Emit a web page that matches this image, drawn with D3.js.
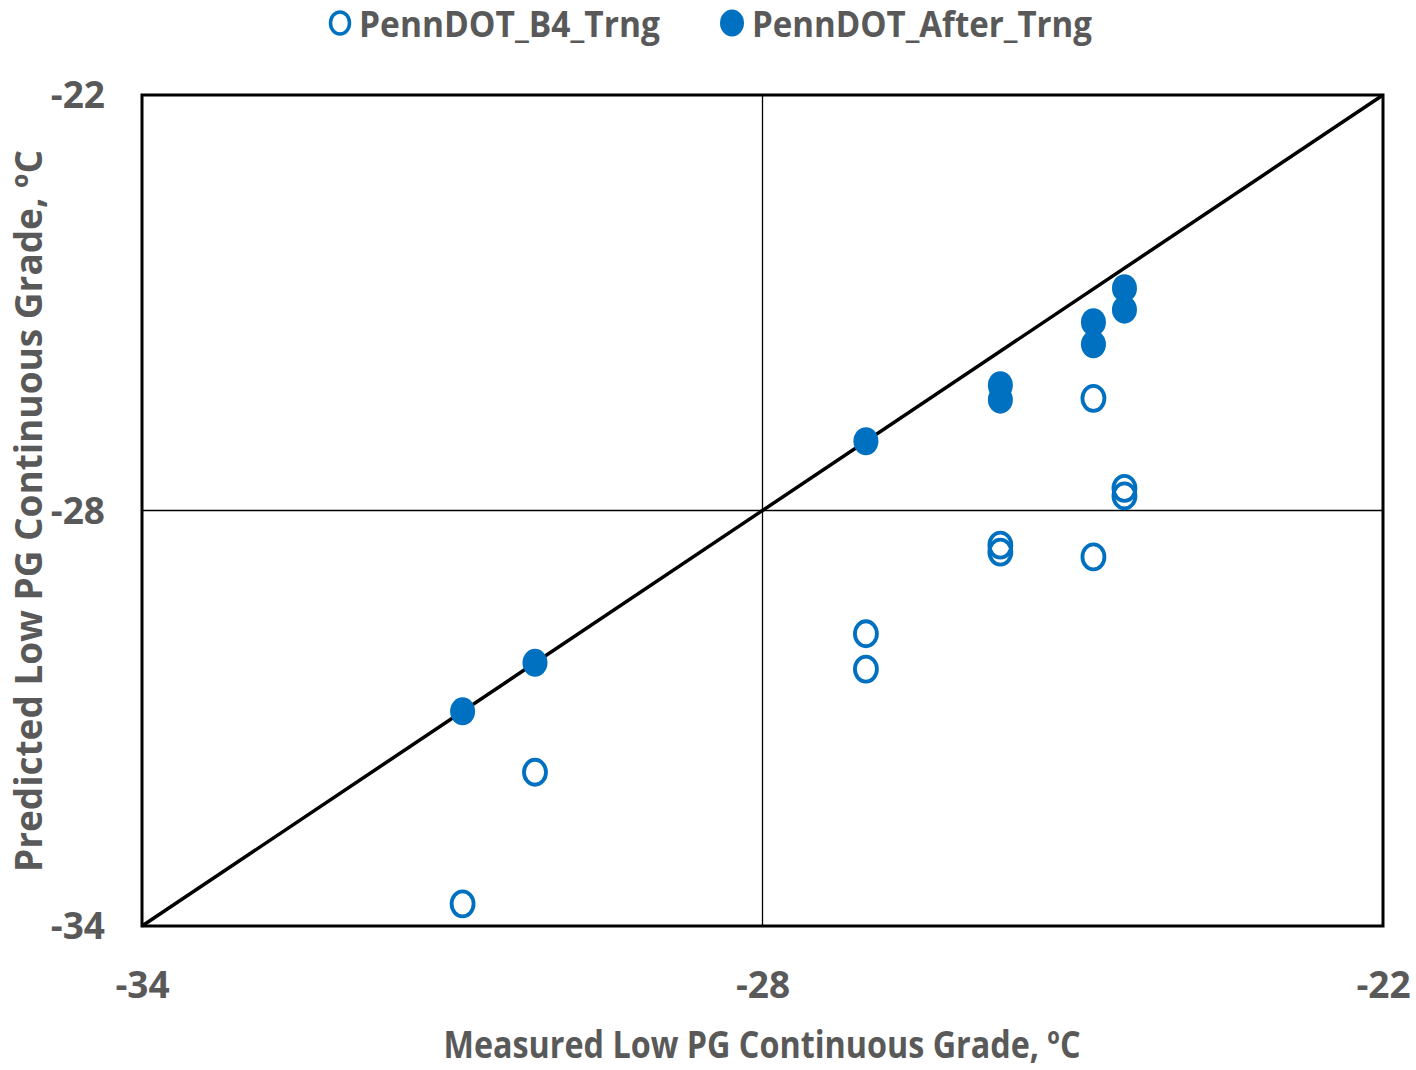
<!DOCTYPE html>
<html>
<head>
<meta charset="utf-8">
<script src="https://cdn.jsdelivr.net/npm/d3@7"></script>
<style>
  html, body { margin: 0; padding: 0; background: #fff; }
  svg text { font-family: "Liberation Sans Narrow", "Open Sans", sans-serif; font-weight: bold; fill: #595959; }
</style>
</head>
<body>
<svg id="chart" width="1416" height="1070"></svg>
<script>
// Measured vs predicted low-temperature PG continuous grade (°C)
const seriesNames = ["PennDOT_B4_Trng", "PennDOT_After_Trng"];

const b4Measured   = [-30.9, -30.2, -27.0, -27.0, -25.7, -25.7, -24.8, -24.8, -24.5, -24.5];
const b4Predicted  = [-33.68, -31.78, -29.78, -30.29, -28.50, -28.60, -26.38, -28.67, -27.68, -27.79];

const afterMeasured  = [-30.9, -30.2, -27.0, -25.7, -25.7, -24.8, -24.8, -24.5, -24.5];
const afterPredicted = [-30.9, -30.2, -27.0, -26.19, -26.40, -25.28, -25.60, -24.79, -25.10];

const axisDomain = [-34, -22];
const tickValues = [-34, -28, -22];
const xTitle = "Measured Low PG Continuous Grade, ºC";
const yTitle = "Predicted Low PG Continuous Grade, ºC";

const blue = "#0070C0";
const svg = d3.select("#chart");

const plot = { left: 142, right: 1383, top: 95, bottom: 926 };
const x = d3.scaleLinear().domain(axisDomain).range([plot.left, plot.right]);
const y = d3.scaleLinear().domain(axisDomain).range([plot.bottom, plot.top]);
const tickText = d => String(d);

// Centre gridlines
const grid = svg.append("g");
grid.selectAll("line.gx").data(tickValues.slice(1, -1)).join("line")
  .attr("x1", d => x(d)).attr("x2", d => x(d))
  .attr("y1", plot.top).attr("y2", plot.bottom)
  .attr("stroke", "#000").attr("stroke-width", 1.3);
grid.selectAll("line.gy").data(tickValues.slice(1, -1)).join("line")
  .attr("y1", d => y(d)).attr("y2", d => y(d))
  .attr("x1", plot.left).attr("x2", plot.right)
  .attr("stroke", "#000").attr("stroke-width", 1.3);

// Line of equality
svg.append("line")
  .attr("x1", x(axisDomain[0])).attr("y1", y(axisDomain[0]))
  .attr("x2", x(axisDomain[1])).attr("y2", y(axisDomain[1]))
  .attr("stroke", "#000").attr("stroke-width", 3.5);

// Plot frame
svg.append("rect")
  .attr("x", plot.left).attr("y", plot.top)
  .attr("width", plot.right - plot.left).attr("height", plot.bottom - plot.top)
  .attr("fill", "none").attr("stroke", "#000").attr("stroke-width", 3);

// Axes (labels only)
const xAxis = svg.append("g")
  .attr("transform", `translate(0,${plot.bottom})`)
  .call(d3.axisBottom(x).tickValues(tickValues).tickSize(0).tickPadding(0).tickFormat(tickText));
xAxis.select(".domain").remove();
xAxis.selectAll("text").attr("dy", null).attr("y", 72).style("font-size", "37px")
  .attr("text-anchor", "middle").attr("fill", "#595959");

const yAxis = svg.append("g")
  .attr("transform", `translate(${plot.left},0)`)
  .call(d3.axisLeft(y).tickValues(tickValues).tickSize(0).tickPadding(0).tickFormat(tickText));
yAxis.select(".domain").remove();
yAxis.selectAll("text").attr("x", -37).attr("dy", "0.35em").style("font-size", "37px")
  .attr("text-anchor", "end").attr("fill", "#595959");

// Before-training points (hollow)
svg.append("g").selectAll("ellipse").data(b4Measured.map((m, i) => [m, b4Predicted[i]])).join("ellipse")
  .attr("cx", d => x(d[0])).attr("cy", d => y(d[1]))
  .attr("rx", 11).attr("ry", 12.5)
  .attr("fill", "none").attr("stroke", blue).attr("stroke-width", 3.8);

// After-training points (filled)
svg.append("g").selectAll("ellipse").data(afterMeasured.map((m, i) => [m, afterPredicted[i]])).join("ellipse")
  .attr("cx", d => x(d[0])).attr("cy", d => y(d[1]))
  .attr("rx", 12.5).attr("ry", 14)
  .attr("fill", blue);

// Axis titles
svg.append("text").attr("x", 762).attr("y", 1058).attr("text-anchor", "middle")
  .style("font-size", "38px").attr("textLength", 637).attr("lengthAdjust", "spacingAndGlyphs")
  .text(xTitle);
svg.append("text").attr("transform", "translate(42,511) rotate(-90)").attr("text-anchor", "middle")
  .style("font-size", "38px").attr("textLength", 722).attr("lengthAdjust", "spacingAndGlyphs")
  .text(yTitle);

// Legend
const legend = svg.append("g");
legend.append("ellipse").attr("cx", 340).attr("cy", 23).attr("rx", 9.5).attr("ry", 11)
  .attr("fill", "none").attr("stroke", blue).attr("stroke-width", 3.5);
legend.append("text").attr("x", 359).attr("y", 37).style("font-size", "36px")
  .attr("textLength", 301).attr("lengthAdjust", "spacingAndGlyphs").text(seriesNames[0]);
legend.append("ellipse").attr("cx", 732).attr("cy", 23).attr("rx", 12).attr("ry", 13.5)
  .attr("fill", blue);
legend.append("text").attr("x", 752).attr("y", 37).style("font-size", "36px")
  .attr("textLength", 340).attr("lengthAdjust", "spacingAndGlyphs").text(seriesNames[1]);
</script>
</body>
</html>
